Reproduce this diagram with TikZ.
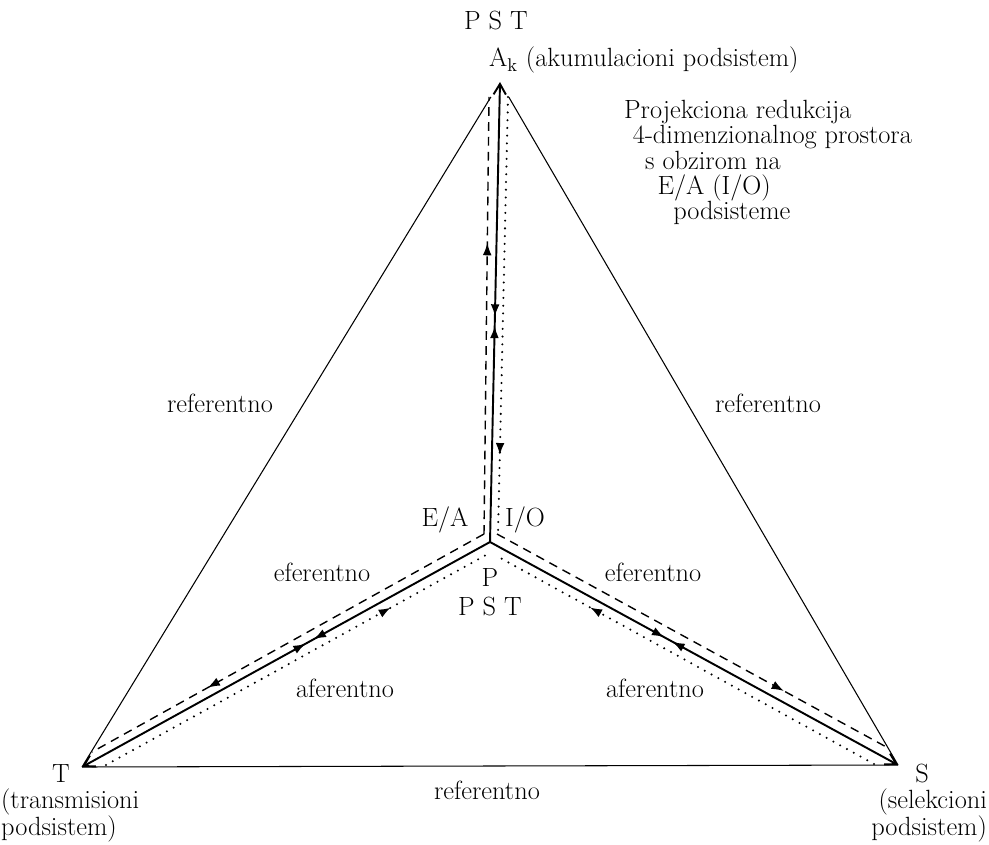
\documentclass[tikz,border=0pt]{standalone}
\usetikzlibrary{positioning,arrows.meta,decorations.markings}

\begin{document}
\begin{tikzpicture}[x=0.02cm, y=-0.02cm,
    every node/.style={font=\fontsize{15}{16}\selectfont, inner sep=1pt},
    edge/.style={line width=0.6pt},
    spoke/.style={line width=1.1pt},
    efer/.style={line width=0.8pt, dash pattern=on 5pt off 3.5pt},
    afer/.style={line width=1.3pt, line cap=round, dash pattern=on 0pt off 4.4pt},
    fwd/.style={postaction={decorate, decoration={markings,
        mark=at position #1 with {\arrow{Latex[length=7pt,width=5pt]}}}}},
    bwd/.style={postaction={decorate, decoration={markings,
        mark=at position #1 with {\arrowreversed{Latex[length=7pt,width=5pt]}}}}},
    tip/.style={-{Straight Barb[length=6pt,width=7pt]}}]

    \useasboundingbox (0,0) rectangle (989,844);

    % corners of the reduced space
    \coordinate (A) at (500,82);
    \coordinate (P) at (490,542);
    \coordinate (T) at (82,767);
    \coordinate (S) at (898,765);

    % eferentno (dashed) and aferentno (dotted) tracks
    \coordinate (efA) at (489,97);
    \coordinate (efP) at (484,534);
    \coordinate (efT) at (92,752);
    \coordinate (efPs) at (497,534);
    \coordinate (efS) at (890,749);
    \coordinate (afA) at (508,97);
    \coordinate (afP) at (498,534);
    \coordinate (afPt) at (486,555);
    \coordinate (afT) at (106,765);
    \coordinate (afPs) at (495,555);
    \coordinate (afS) at (874,764);

    % labels
    \node (pstTop) at (496,21) {P S T};
    \node (akLabel) [anchor=base west] at (487,67) {A\textsubscript{k} (akumulacioni podsistem)};
    \node (note) [anchor=base west, align=left, font=\fontsize{15}{14.5}\selectfont] at (622,220)
        {Projekciona redukcija\\
         \hspace*{5pt}4-dimenzionalnog prostora\\
         \hspace*{12pt}s obzirom na\\
         \hspace*{19pt}E/A (I/O)\\
         \hspace*{28pt}podsisteme};
    \node (refLeft) at (220,403) {referentno};
    \node (refRight) at (768,403) {referentno};
    \node (refBottom) at (487,790) {referentno};
    \node (ea) at (445,520) {E/A};
    \node (io) at (525,520) {I/O};
    \node (pLabel) at (490,577) {P};
    \node (pstMid) at (490,606) {P S T};
    \node (eferLeft) at (322,572) {eferentno};
    \node (eferRight) at (653,572) {eferentno};
    \node (aferLeft) at (345,688) {aferentno};
    \node (aferRight) at (655,688) {aferentno};
    \node (tLabel) [anchor=base] at (61,782) {T};
    \node (tName) [anchor=base west, align=left, font=\fontsize{15}{15}\selectfont] at (-1,835) {(transmisioni\\podsistem)};
    \node (sLabel) [anchor=base] at (922,782) {S};
    \node (sName) [anchor=base east, align=right, font=\fontsize{15}{15}\selectfont] at (989,835) {(selekcioni\\podsistem)};

    % outer triangle
    \draw[edge, shorten >=10pt] (T) -- (A);
    \draw[edge, shorten >=10pt] (S) -- (A);
    \draw[edge] (T) -- (S);

    % solid spokes
    \draw[spoke, tip, fwd=0.470, bwd=0.490] (P) -- (A);
    \draw[spoke, tip, fwd=0.432, bwd=0.452] (P) -- (T);
    \draw[spoke, tip, fwd=0.427, bwd=0.447] (P) -- (S);

    % eferentno
    \draw[efer, fwd=0.666] (efP) -- (efA);
    \draw[efer, fwd=0.705] (efP) -- (efT);
    \draw[efer, fwd=0.73] (efPs) -- (efS);

    % aferentno
    \draw[afer, fwd=0.82] (afA) -- (afP);
    \draw[afer, fwd=0.75] (afT) -- (afPt);
    \draw[afer, fwd=0.75] (afS) -- (afPs);
\end{tikzpicture}
\end{document}
